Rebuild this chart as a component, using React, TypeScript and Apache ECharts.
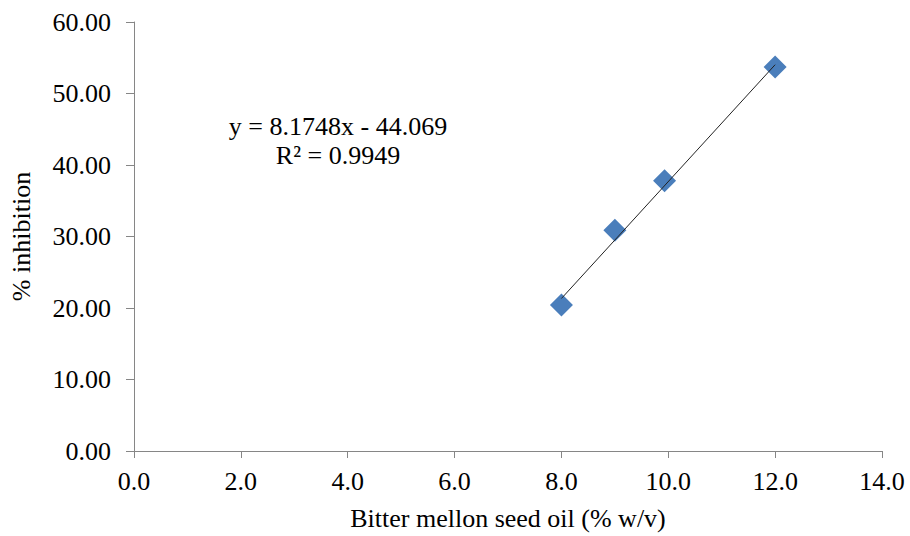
import React, { useEffect, useRef } from "react";
import * as echarts from "echarts";

const oilConc: number[] = [8.0, 9.0, 9.93, 12.0];
const inhibition: number[] = [20.41, 30.86, 37.79, 53.72];
const trendSlope = 8.1748;
const trendIntercept = -44.069;
const trendRange: number[] = [8.0, 12.0];
const equationText = "y = 8.1748x - 44.069";
const r2Text = "R² = 0.9949";
const xTitle = "Bitter mellon seed oil (% w/v)";
const yTitle = "% inhibition";

const FONT = "'Liberation Serif', 'Times New Roman', serif";

export default function App() {
  const ref = useRef<HTMLDivElement>(null);
  useEffect(() => {
    if (!ref.current) return;
    const chart = echarts.init(ref.current, undefined, { renderer: "svg" });
    const points = oilConc.map((x, i) => [x, inhibition[i]]);
    const trend = trendRange.map((x) => [x, trendSlope * x + trendIntercept]);
    chart.setOption({
      animation: false,
      backgroundColor: "#ffffff",
      textStyle: { fontFamily: FONT },
      grid: { left: 127, right: 28, top: 22, bottom: 81, containLabel: false },
      xAxis: {
        type: "value",
        min: 0,
        max: 14,
        interval: 2,
        name: xTitle,
        nameLocation: "middle",
        nameGap: 54,
        nameTextStyle: { fontFamily: FONT, fontSize: 26, color: "#000" },
        axisLine: { show: true, lineStyle: { color: "#868686", width: 1 } },
        axisTick: { show: true, inside: false, length: 7, lineStyle: { color: "#868686" } },
        axisLabel: {
          fontFamily: FONT,
          fontSize: 26,
          color: "#000",
          margin: 17,
          formatter: (v: number) => v.toFixed(1),
        },
        splitLine: { show: false },
      },
      yAxis: {
        type: "value",
        min: 0,
        max: 60,
        interval: 10,
        name: yTitle,
        nameLocation: "middle",
        nameRotate: 90,
        nameGap: 100,
        nameTextStyle: { fontFamily: FONT, fontSize: 26, color: "#000" },
        axisLine: { show: true, lineStyle: { color: "#868686", width: 1 } },
        axisTick: { show: true, inside: false, length: 8, lineStyle: { color: "#868686" } },
        axisLabel: {
          fontFamily: FONT,
          fontSize: 26,
          color: "#000",
          margin: 23,
          formatter: (v: number) => v.toFixed(2),
        },
        splitLine: { show: false },
      },
      series: [
        {
          type: "scatter",
          data: points,
          symbol: "diamond",
          symbolSize: 23,
          itemStyle: { color: "#4a7ebb", opacity: 1 },
          emphasis: { disabled: true },
          z: 2,
        },
        {
          type: "line",
          data: trend,
          showSymbol: false,
          symbol: "none",
          lineStyle: { color: "#222", width: 1 },
          emphasis: { disabled: true },
          z: 3,
        },
      ],
      graphic: [
        {
          type: "text",
          x: 338,
          y: 126,
          style: {
            text: equationText,
            font: `26px ${FONT}`,
            fill: "#000",
            align: "center",
            verticalAlign: "middle",
          },
        },
        {
          type: "text",
          x: 338,
          y: 155,
          style: {
            text: r2Text,
            font: `26px ${FONT}`,
            fill: "#000",
            align: "center",
            verticalAlign: "middle",
          },
        },
      ],
    });
    return () => chart.dispose();
  }, []);
  return (
    <div
      ref={ref}
      style={{ position: "absolute", left: 0, top: 0, width: 910, height: 536 }}
    />
  );
}
